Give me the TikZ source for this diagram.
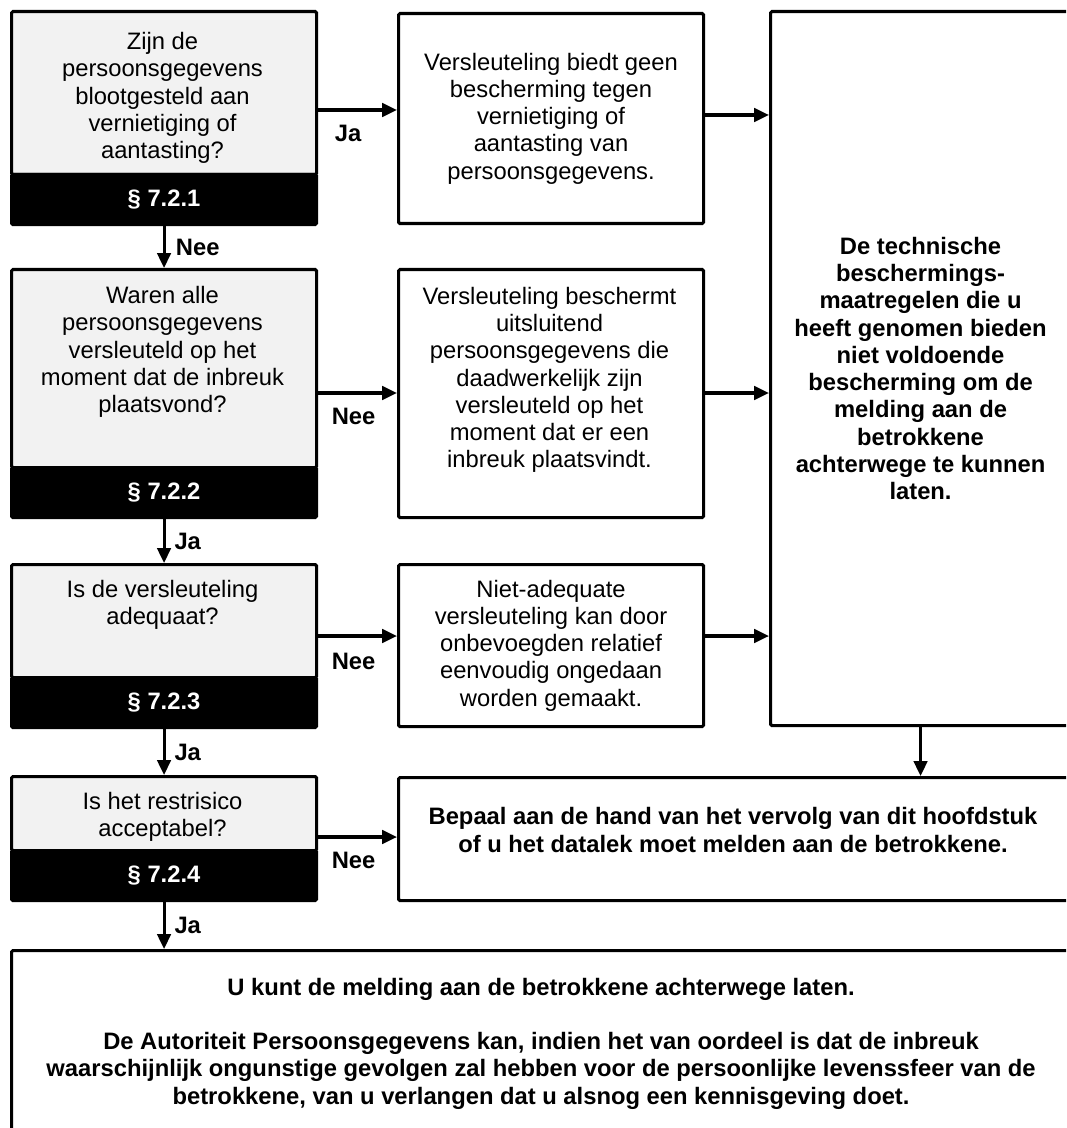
\documentclass[tikz,border=0pt]{standalone}
\usepackage{fontspec}
\setmainfont{Liberation Sans}
\usetikzlibrary{arrows.meta}
\newcommand{\unitpx}{0.025cm}
\definecolor{qgray}{RGB}{242,242,242}

\begin{document}
\begin{tikzpicture}[x=0.025cm, y=-0.025cm,
	txt/.style={align=center, font=\fontsize{16.9}{19.4}\selectfont},
	btxt/.style={align=center, font=\fontsize{16.9}{19.4}\selectfont\bfseries},
	box/.style={draw, rounded corners=1pt, anchor=north west, inner sep=0pt},
	qbox/.style={box, fill=qgray, minimum width=305*\unitpx},
	sbox/.style={box, btxt, fill=black, text=white, minimum width=305*\unitpx, minimum height=50*\unitpx},
	l/.style={font=\fontsize{16.9}{19.4}\selectfont\bfseries},
	>={Triangle[length=10.5pt, width=9.5pt]}, line width=2.2pt]
	\useasboundingbox (0,0) rectangle (1066,1128);
	\clip (0,0) rectangle (1066,1128);

	% vragen links
	\node[qbox, minimum height=163*\unitpx] (q1) at (10,10) {};
	\node[sbox] (s1) at (10,173) {\S\ 7.2.1};
	\node[txt] (t1) at (162.5,98) {Zijn de\\persoonsgegevens\\blootgesteld aan\\vernietiging of\\aantasting?};

	\node[qbox, minimum height=198*\unitpx] (q2) at (10,268) {};
	\node[sbox] (s2) at (10,466) {\S\ 7.2.2};
	\node[txt] (t2) at (162.5,352) {Waren alle\\persoonsgegevens\\versleuteld op het\\moment dat de inbreuk\\plaatsvond?};

	\node[qbox, minimum height=113*\unitpx] (q3) at (10,563) {};
	\node[sbox] (s3) at (10,676) {\S\ 7.2.3};
	\node[txt] (t3) at (162.5,605) {Is de versleuteling\\adequaat?};

	\node[qbox, minimum height=74*\unitpx] (q4) at (10,775) {};
	\node[sbox] (s4) at (10,849) {\S\ 7.2.4};
	\node[txt] (t4) at (162.5,817) {Is het restrisico\\acceptabel?};

	% uitkomsten rechts
	\node[box, txt, minimum width=305*\unitpx, minimum height=210*\unitpx] (a) at (397,12) {Versleuteling biedt geen\\bescherming tegen\\vernietiging of\\aantasting van\\persoonsgegevens.};
	\node[box, minimum width=305*\unitpx, minimum height=248*\unitpx] (b) at (397,268) {};
	\node[txt] (tb) at (549.5,380) {Versleuteling beschermt\\uitsluitend\\persoonsgegevens die\\daadwerkelijk zijn\\versleuteld op het\\moment dat er een\\inbreuk plaatsvindt.};
	\node[box, txt, minimum width=305*\unitpx, minimum height=162*\unitpx] (c) at (397,563) {Niet-adequate\\versleuteling kan door\\onbevoegden relatief\\eenvoudig ongedaan\\worden gemaakt.};
	\node[box, btxt, minimum width=300*\unitpx, minimum height=714*\unitpx] (m) at (769,10) {De technische\\beschermings-\\maatregelen die u\\heeft genomen bieden\\niet voldoende\\bescherming om de\\melding aan de\\betrokkene\\achterwege te kunnen\\laten.};
	\node[box, minimum width=672*\unitpx, minimum height=123*\unitpx] (d) at (397,776) {};
	\node[btxt] (td) at (733,830) {Bepaal aan de hand van het vervolg van dit hoofdstuk\\of u het datalek moet melden aan de betrokkene.};
	\node[box, btxt, minimum width=1059*\unitpx, minimum height=186*\unitpx] (e) at (10,949) {U kunt de melding aan de betrokkene achterwege laten.\\[19.4pt]De Autoriteit Persoonsgegevens kan, indien het van oordeel is dat de inbreuk\\waarschijnlijk ongunstige gevolgen zal hebben voor de persoonlijke levenssfeer van de\\betrokkene, van u verlangen dat u alsnog een kennisgeving doet.};

	% pijlen
	\draw[->] (q1.east |- 0,110) -- node[l, below, pos=0.38, yshift=-6.5pt] (ja1) {Ja} (a.west |- 0,110);
	\draw[->] (a.east |- 0,115) -- (m.west |- 0,115);
	\draw[->] (q2.east |- 0,393) -- node[l, below, pos=0.45, yshift=-6pt] (nee2) {Nee} (b.west |- 0,393);
	\draw[->] (b.east |- 0,393) -- (m.west |- 0,393);
	\draw[->] (q3.east |- 0,636) -- node[l, below, pos=0.45, yshift=-8pt] (nee3) {Nee} (c.west |- 0,636);
	\draw[->] (c.east |- 0,636) -- (m.west |- 0,636);
	\draw[->] (q4.east |- 0,837) -- node[l, below, pos=0.45, yshift=-6.5pt] (nee4) {Nee} (d.west |- 0,837);
	\draw[->] (m.south) -- (d.north -| m.south);

	\draw[->] (s1.south) -- node[l, right, xshift=4pt] (nee1) {Nee} (q2.north);
	\draw[->] (s2.south) -- node[l, right, xshift=3pt] (ja2) {Ja} (q3.north);
	\draw[->] (s3.south) -- node[l, right, xshift=3pt] (ja3) {Ja} (q4.north);
	\draw[->] (s4.south) -- node[l, right, xshift=3pt] (ja4) {Ja} (e.north -| s4.south);
\end{tikzpicture}
\end{document}
